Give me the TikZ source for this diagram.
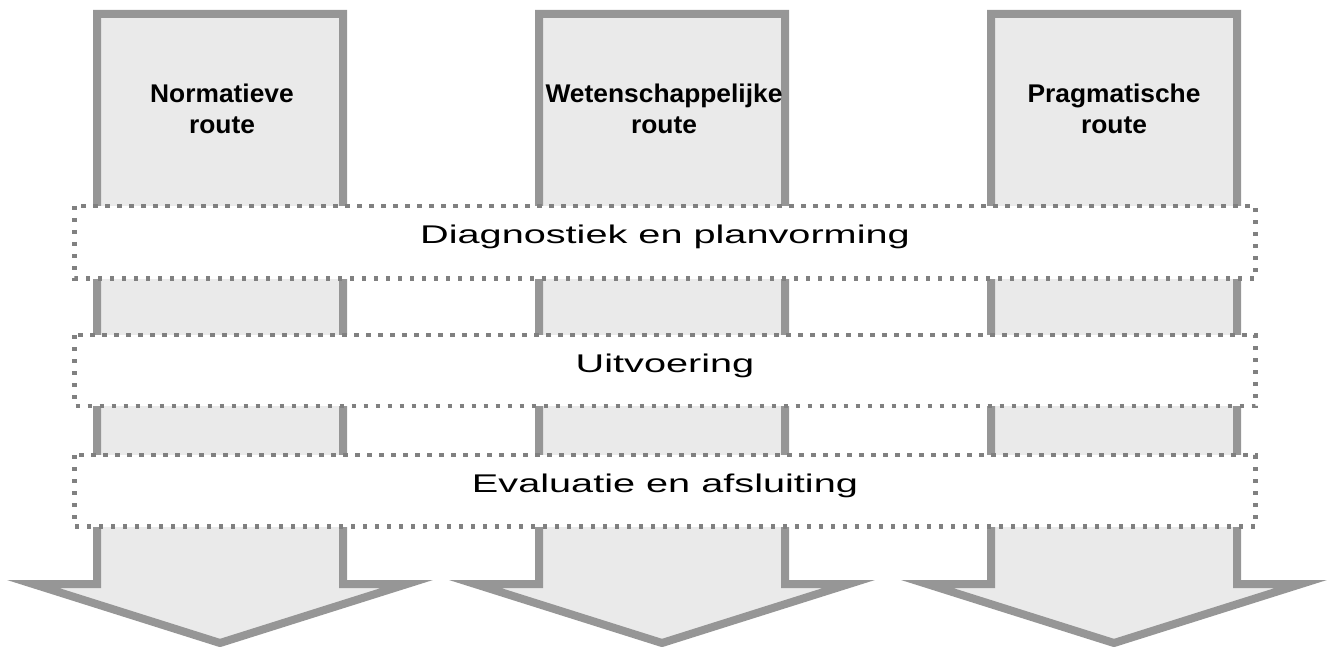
\documentclass[tikz,border=0pt]{standalone}
\usepackage{fontspec}
\setmainfont{Liberation Sans}
\newfontfamily\bandfont[FakeStretch=1.55]{Liberation Sans}
\newfontfamily\routefont[FakeStretch=1.03]{Liberation Sans Bold}
\definecolor{arrowfill}{HTML}{EAEAEA}
\definecolor{arrowline}{HTML}{969696}
\definecolor{dotline}{HTML}{808080}
\begin{document}
\begin{tikzpicture}[x=1pt,y=-1pt,
  routearrow/.style={draw=arrowline, fill=arrowfill, line width=8pt, line join=miter},
  phaseband/.style={draw=dotline, fill=white, line width=4.3pt, dash pattern=on 4.3pt off 7.7pt},
  routelabel/.style={font=\routefont\fontsize{25.6}{31}\selectfont, align=center, inner sep=0pt},
  phaselabel/.style={font=\bandfont\fontsize{25.6}{30}\selectfont, anchor=base, inner sep=0pt}]
\useasboundingbox (0,0) rectangle (1328,647);
\foreach \c in {220,662,1114} {
  \draw[routearrow] (\c-123,14) -- (\c+123,14) -- (\c+123,584) -- (\c+187,584)
     -- (\c,643) -- (\c-187,584) -- (\c-123,584) -- cycle;
}
\node[routelabel] (norm) at (222,109) {Normatieve\\route};
\node[routelabel] (wet) at (664,109) {Wetenschappelijke\\route};
\node[routelabel] (prag) at (1114,109) {Pragmatische\\route};
\draw[phaseband] (74.5,206) rectangle (1255.5,278.5);
\draw[phaseband] (74.5,335) rectangle (1255.5,406);
\draw[phaseband] (74.5,455) rectangle (1255.5,526.5);
\node[phaselabel] (diag) at (665,243.5) {Diagnostiek en planvorming};
\node[phaselabel] (uitv) at (665,372.3) {Uitvoering};
\node[phaselabel] (eval) at (665,492.7) {Evaluatie en afsluiting};
\end{tikzpicture}
\end{document}
